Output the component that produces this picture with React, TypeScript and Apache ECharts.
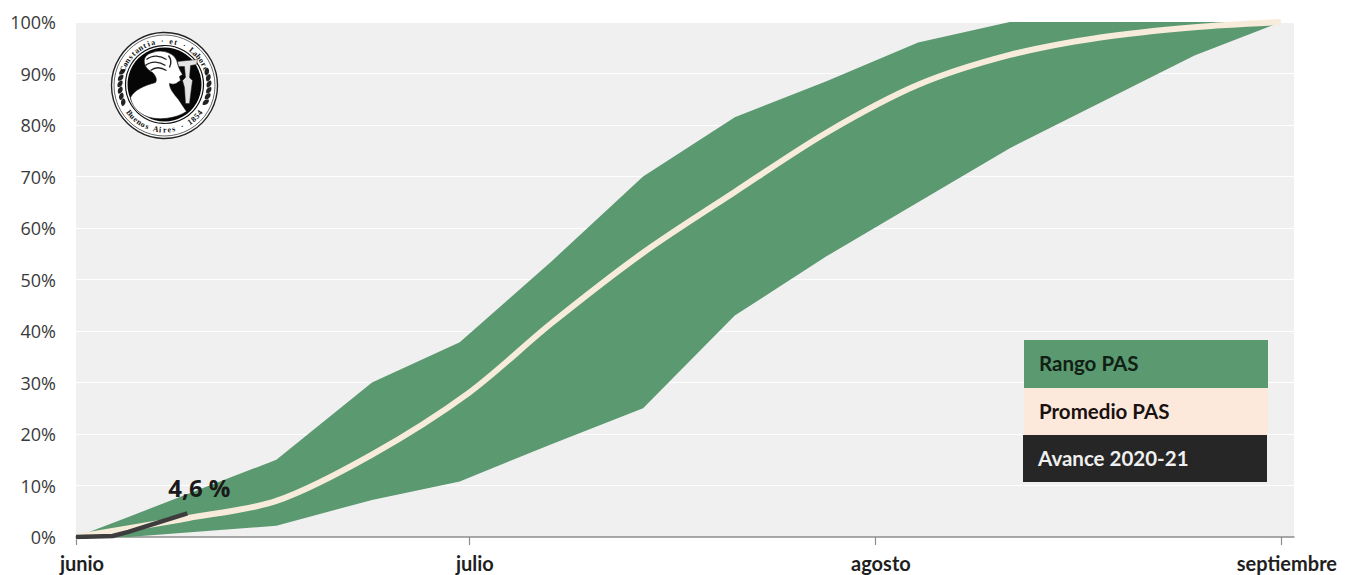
import React, { useEffect, useRef } from "react";
import * as echarts from "echarts";

const days = [0, 4, 15.3, 22.6, 29.3, 36.3, 43.3, 50.3, 57.3, 64.3, 71.3, 85.4, 92];
const upperPct = [0, 3.9, 15, 30, 37.8, 53.5, 70, 81.5, 88.5, 96, 100, 100, 100];
const lowerPct = [0, 0, 2.2, 7.2, 10.8, 18, 25, 43, 54.5, 65, 75.5, 93.5, 100];
const meanDays = [0, 8.6, 15.3, 22.6, 30, 36.3, 43.3, 50.3, 57.3, 64.3, 71.3, 78.2, 85.4, 92];
const meanPct = [0, 3.7, 7, 16, 28, 41.5, 55.2, 67, 78.5, 87.8, 93.6, 97, 99, 100];
const avanceDays = [0, 2.8, 4, 8.5];
const avancePct = [0, 0.2, 1, 4.6];
const tickDays = [0, 30, 61, 92];
const tickLabels = ["junio", "julio", "agosto", "septiembre"];
const legendItems = ["Rango PAS", "Promedio PAS", "Avance 2020-21"];
const sealTop = "Constantia · et · Labore";
const sealBottom = "Buenos Aires · 1854";

const bust =
  "M-34 12 C-30 4 -20 0 -9 -3 C-7 -6 -9 -10 -12 -13 C-22 -18 -24 -30 -12 -33 C-2 -37 12 -32 13 -22 C14 -18 16 -14 18 -11 L15 -9 L16 -5 L13 -3 C11 -1 8 -1 5 -2 C5 3 9 8 14 14 L22 26 C12 33 -8 36 -20 30 C-28 26 -33 19 -34 12 Z";
const torch = "M13 -24 L33 -26 L32 -21 L26 -20 L25 -8 L28 -5 L27 2 L25 18 L21 18 L20 2 L18 -5 L21 -8 L20 -19 L14 -19 Z";
const hair = "M-18 -26 C-12 -31 -4 -30 2 -26 M-19 -20 C-13 -25 -5 -24 1 -20 M-14 -15 C-9 -19 -3 -18 2 -15 M4 -30 C7 -26 7 -22 5 -18";
const leaf = "M0 -4 C3 -2 3 2 0 4 C-3 2 -3 -2 0 -4 Z";
echarts.graphic.registerShape("sealBust", echarts.graphic.extendPath(bust, {}) as any);
echarts.graphic.registerShape("sealTorch", echarts.graphic.extendPath(torch, {}) as any);
echarts.graphic.registerShape("sealHair", echarts.graphic.extendPath(hair, {}) as any);
echarts.graphic.registerShape("sealLeaf", echarts.graphic.extendPath(leaf, {}) as any);

function arcText(text: string, r: number, startDeg: number, stepDeg: number, bottom: boolean) {
  return text.split("").map((ch, i) => {
    const deg = startDeg + i * stepDeg;
    const a = (deg * Math.PI) / 180;
    return {
      type: "text",
      z: 14,
      x: Math.sin(a) * r,
      y: -Math.cos(a) * r,
      rotation: bottom ? -((deg - 180) * Math.PI) / 180 : (-deg * Math.PI) / 180,
      style: {
        text: ch,
        fill: "#111",
        font: 'bold 8px "Liberation Serif"',
        align: "center",
        verticalAlign: "middle",
      },
    };
  });
}

function seal() {
  const leaves: any[] = [];
  [-1, 1].forEach((side) => {
    for (let i = 0; i < 6; i++) {
      const deg = 72 + i * 8;
      const a = (deg * Math.PI) / 180;
      leaves.push({
        type: "sealLeaf",
        z: 14,
        x: side * Math.sin(a) * 44.5,
        y: -Math.cos(a) * 44.5,
        rotation: -side * a + Math.PI / 3,
        style: { fill: "#222" },
      });
    }
  });
  return {
    type: "group",
    x: 164.5,
    y: 85.5,
    silent: true,
    children: [
      { type: "circle", z: 10, shape: { cx: 0, cy: 0, r: 53 }, style: { fill: "#fff", stroke: "#222", lineWidth: 1.4 } },
      { type: "circle", z: 11, shape: { cx: 0, cy: 0, r: 50.5 }, style: { fill: "none", stroke: "#222", lineWidth: 0.7 } },
      { type: "circle", z: 11, shape: { cx: 0, cy: -1, r: 39 }, style: { fill: "#fff", stroke: "#111", lineWidth: 1.2 } },
      { type: "circle", z: 12, shape: { cx: 0, cy: -1, r: 37 }, style: { fill: "#060606" } },
      { type: "sealTorch", z: 13, x: 0, y: 0, style: { fill: "#e4e4e4", stroke: "#222", lineWidth: 0.5 } },
      { type: "sealBust", z: 14, x: 0, y: 0, style: { fill: "#fff", stroke: "#111", lineWidth: 0.6 } },
      { type: "sealHair", z: 15, x: 0, y: 0, style: { fill: "none", stroke: "#222", lineWidth: 1.4 } },
      ...leaves,
      ...arcText(sealTop, 44.5, -68, 5.9, false),
      ...arcText(sealBottom, 44.5, 232, -5.8, true),
    ],
  };
}

function legend() {
  const rows = [
    { x: 1024, y: 340, w: 244, h: 48, bg: "#5b9970", fg: "#102015", tx: 1039, text: legendItems[0] },
    { x: 1024, y: 388, w: 244, h: 47, bg: "#fde9dc", fg: "#1a1210", tx: 1039, text: legendItems[1] },
    { x: 1023, y: 435, w: 244, h: 47, bg: "#262626", fg: "#f0f0f0", tx: 1038, text: legendItems[2] },
  ];
  return rows.flatMap((r) => [
    { type: "rect", z: 10, shape: { x: r.x, y: r.y, width: r.w, height: r.h }, style: { fill: r.bg }, silent: true },
    {
      type: "text",
      z: 11,
      x: r.tx,
      y: r.y + r.h / 2 - 1,
      silent: true,
      style: {
        text: r.text,
        fill: r.fg,
        font: 'bold 20.5px "Lato"',
        verticalAlign: "middle",
      },
    },
  ]);
}

export default function App() {
  const ref = useRef<HTMLDivElement>(null);
  useEffect(() => {
    document.body.style.margin = "0";
    const chart = echarts.init(ref.current!, undefined, { renderer: "svg" });
    chart.setOption({
      animation: false,
      backgroundColor: "#fff",
      grid: {
        show: true,
        left: 76,
        right: 65,
        top: 22,
        bottom: 38,
        backgroundColor: "#f0f0f0",
        borderWidth: 0,
      },
      xAxis: {
        type: "value",
        min: 0,
        max: 93,
        splitLine: { show: false },
        axisLine: { show: true, lineStyle: { color: "#8c8c8c", width: 1.5 } },
        axisTick: { show: true, length: 8, customValues: tickDays, lineStyle: { color: "#8c8c8c", width: 1.2 } },
        axisLabel: {
          show: true,
          customValues: tickDays,
          margin: 16,
          padding: [0, 0, 0, 12],
          color: "#1f1f1f",
          fontFamily: "Lato",
          fontWeight: "bold",
          fontSize: 20,
          formatter: (v: number) => tickLabels[tickDays.indexOf(v)] ?? "",
          hideOverlap: false,
          showMinLabel: true,
          showMaxLabel: true,
        },
      },
      yAxis: {
        type: "value",
        min: 0,
        max: 100,
        interval: 10,
        axisLine: { show: false },
        axisTick: { show: false },
        splitLine: { show: true, lineStyle: { color: "#ffffff", width: 1 } },
        axisLabel: {
          margin: 20,
          color: "#3a3a3a",
          fontFamily: "Open Sans",
          fontSize: 18,
          formatter: "{value}%",
        },
      },
      series: [
        {
          type: "custom",
          data: days.map((d, i) => [d, lowerPct[i], upperPct[i]]),
          encode: { x: 0, y: [1, 2] },
          silent: true,
          z: 2,
          renderItem: (params: any, api: any) => {
            if (params.dataIndex !== 0) return null;
            const top = days.map((d, i) => api.coord([d, upperPct[i]]));
            const bottom = days.map((d, i) => api.coord([d, lowerPct[i]])).reverse();
            return {
              type: "polygon",
              shape: { points: top.concat(bottom) },
              style: { fill: "#5b9970" },
            };
          },
        },
        {
          type: "line",
          data: meanDays.map((d, i) => [d, meanPct[i]]),
          smooth: 0.3,
          showSymbol: false,
          clip: false,
          lineStyle: { color: "#f7ecd9", width: 6 },
          z: 3,
        },
        {
          type: "line",
          data: avanceDays.map((d, i) => [d, avancePct[i]]),
          showSymbol: false,
          lineStyle: { color: "#3d3d3d", width: 4.5 },
          z: 4,
          endLabel: {
            show: true,
            formatter: "4,6 %",
            color: "#1a1a1a",
            fontFamily: "Open Sans",
            fontWeight: "bold",
            fontSize: 24,
            offset: [-27, -26],
          },
        },
      ],
      graphic: { elements: [seal(), ...legend()] },
    });
    return () => chart.dispose();
  }, []);
  return <div ref={ref} style={{ position: "fixed", left: 0, top: 0, width: 1359, height: 575 }} />;
}
